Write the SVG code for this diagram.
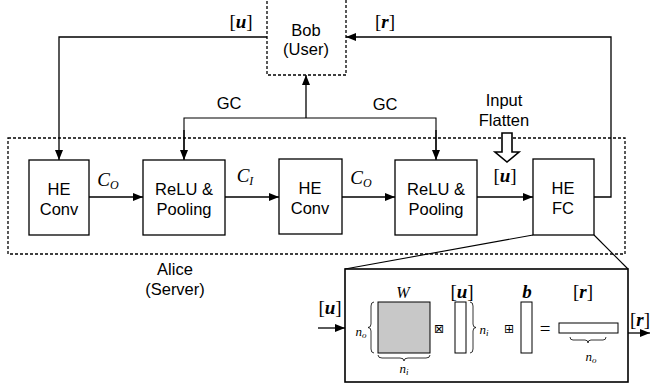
<svg xmlns="http://www.w3.org/2000/svg" width="650" height="387" viewBox="0 0 650 387">
<defs>
<marker id="ah" viewBox="0 0 10 8" refX="10" refY="4" markerWidth="11" markerHeight="8" markerUnits="userSpaceOnUse" orient="auto">
<path d="M0,0 L10,4 L0,8 Z" fill="#000"/>
</marker>
</defs>
<style>
.box{fill:#fff;stroke:#000;stroke-width:1.3}
.dash{fill:none;stroke:#000;stroke-width:1.3;stroke-dasharray:3,2}
.ln{fill:none;stroke:#000;stroke-width:1.1}
.arr{fill:none;stroke:#000;stroke-width:1.3;marker-end:url(#ah)}
.t{font-family:"Liberation Sans",Arial,sans-serif;font-size:16.5px;fill:#000;text-anchor:middle}
.m{font-family:"Liberation Serif","Times New Roman",serif;font-size:19px;fill:#000;text-anchor:middle}
.ms{font-family:"Liberation Serif","Times New Roman",serif;font-size:13px;fill:#000;text-anchor:middle}
.sym{font-family:"DejaVu Sans",sans-serif;font-size:12px;fill:#000;text-anchor:middle}
.br{fill:none;stroke:#000;stroke-width:0.8}
</style>
<rect width="650" height="387" fill="#fff"/>

<g id="alice">
<rect class="dash" x="8" y="138" width="617" height="116"/>
<text class="t" x="175" y="275">Alice</text>
<text class="t" x="175" y="295">(Server)</text>
</g>

<g id="connectors">
<polyline class="arr" points="267,37 59,37 59,160"/>
<polyline class="arr" points="594,197 611,197 611,37 346,37"/>
<line class="arr" x1="306" y1="118" x2="306" y2="75"/>
<polyline class="ln" points="184,159 184,118 436,118 436,159"/>
<line class="arr" x1="184" y1="130" x2="184" y2="160"/>
<line class="arr" x1="436" y1="130" x2="436" y2="160"/>
<line class="arr" x1="89" y1="197" x2="143" y2="197"/>
<line class="arr" x1="225" y1="197" x2="279" y2="197"/>
<line class="arr" x1="342" y1="197" x2="395" y2="197"/>
<line class="arr" x1="477" y1="197" x2="533" y2="197"/>
<line class="ln" x1="533" y1="235" x2="345" y2="269"/>
<line class="ln" x1="594" y1="235" x2="628" y2="269"/>
<line class="arr" x1="318" y1="328" x2="345" y2="328"/>
<line class="arr" x1="628" y1="333" x2="650" y2="333"/>
<path d="M502,133 H512 V152 H519 L507,162 L495,152 H502 Z" fill="#fff" stroke="#000" stroke-width="1.6"/>
<text class="m" x="241" y="28">[<tspan font-weight="bold" font-style="italic">u</tspan>]</text>
<text class="m" x="385" y="28">[<tspan font-weight="bold" font-style="italic">r</tspan>]</text>
<text class="t" x="229" y="109">GC</text>
<text class="t" x="385" y="110">GC</text>
<text class="t" x="504" y="106">Input</text>
<text class="t" x="504" y="126">Flatten</text>
<text class="m" x="505" y="182">[<tspan font-weight="bold" font-style="italic">u</tspan>]</text>
<text class="m" x="108" y="186" font-style="italic">C<tspan font-size="12" dy="3">O</tspan></text>
<text class="m" x="245" y="182" font-style="italic">C<tspan font-size="12" dy="3">I</tspan></text>
<text class="m" x="361" y="184" font-style="italic">C<tspan font-size="12" dy="3">O</tspan></text>
</g>

<g id="bob">
<rect class="dash" x="267" y="-1" width="79" height="76"/>
<text class="t" x="306" y="36">Bob</text>
<text class="t" x="306" y="55">(User)</text>
</g>

<g id="heconv1">
<rect class="box" x="29" y="160" width="60" height="75"/>
<text class="t" x="59" y="195">HE</text>
<text class="t" x="59" y="215">Conv</text>
</g>

<g id="relu1">
<rect class="box" x="143" y="160" width="82" height="75"/>
<text class="t" x="184" y="195">ReLU &amp;</text>
<text class="t" x="184" y="215">Pooling</text>
</g>

<g id="heconv2">
<rect class="box" x="279" y="159" width="63" height="75"/>
<text class="t" x="310" y="194">HE</text>
<text class="t" x="310" y="214">Conv</text>
</g>

<g id="relu2">
<rect class="box" x="395" y="160" width="82" height="75"/>
<text class="t" x="436" y="195">ReLU &amp;</text>
<text class="t" x="436" y="215">Pooling</text>
</g>

<g id="hefc">
<rect class="box" x="533" y="159" width="61" height="76"/>
<text class="t" x="563" y="194">HE</text>
<text class="t" x="563" y="214">FC</text>
</g>

<g id="fcdetail">
<rect x="345" y="269" width="283" height="113" fill="#fff" stroke="#000" stroke-width="1.6"/>
<text class="m" x="330" y="314">[<tspan font-weight="bold" font-style="italic">u</tspan>]</text>
<text class="m" x="640" y="326">[<tspan font-weight="bold" font-style="italic">r</tspan>]</text>
<text class="ms" x="403" y="298" font-style="italic" style="font-size:16px">W</text>
<rect x="378" y="302" width="52" height="51" fill="#c8c8c8" stroke="#000" stroke-width="1"/>
<path class="br" d="M374,302 Q371,302 371,306 L371,324 Q371,327.5 368,327.5 Q371,327.5 371,331 L371,349 Q371,353 374,353"/>
<text class="ms" x="361" y="336" font-style="italic">n<tspan font-size="9" dy="2">o</tspan></text>
<path class="br" d="M378,355 Q378,358 382,358 L400,358 Q404,358 404,361 Q404,358 408,358 L426,358 Q430,358 430,355"/>
<text class="ms" x="404" y="373" font-style="italic">n<tspan font-size="9" dy="2">i</tspan></text>
<text class="sym" x="439" y="333">⊠</text>
<text class="m" x="462" y="298">[<tspan font-weight="bold" font-style="italic">u</tspan>]</text>
<rect x="455" y="302" width="11" height="51" fill="#fff" stroke="#000" stroke-width="1"/>
<path class="br" d="M470,302 Q473,302 473,306 L473,324 Q473,327.5 476,327.5 Q473,327.5 473,331 L473,349 Q473,353 470,353"/>
<text class="ms" x="484" y="334" font-style="italic">n<tspan font-size="9" dy="2">i</tspan></text>
<text class="sym" x="509" y="333">⊞</text>
<text class="m" x="527" y="298" font-weight="bold" font-style="italic">b</text>
<rect x="521" y="302" width="11" height="51" fill="#fff" stroke="#000" stroke-width="1"/>
<text class="m" x="545" y="335">=</text>
<text class="m" x="583" y="298">[<tspan font-weight="bold" font-style="italic">r</tspan>]</text>
<rect x="559" y="323" width="59" height="10" fill="#fff" stroke="#000" stroke-width="1"/>
<path class="br" d="M570,337 Q570,340 573,340 L585,340 Q588,340 588,343 Q588,340 591,340 L603,340 Q606,340 606,337"/>
<text class="ms" x="591" y="361" font-style="italic">n<tspan font-size="9" dy="2">o</tspan></text>
</g>
</svg>
